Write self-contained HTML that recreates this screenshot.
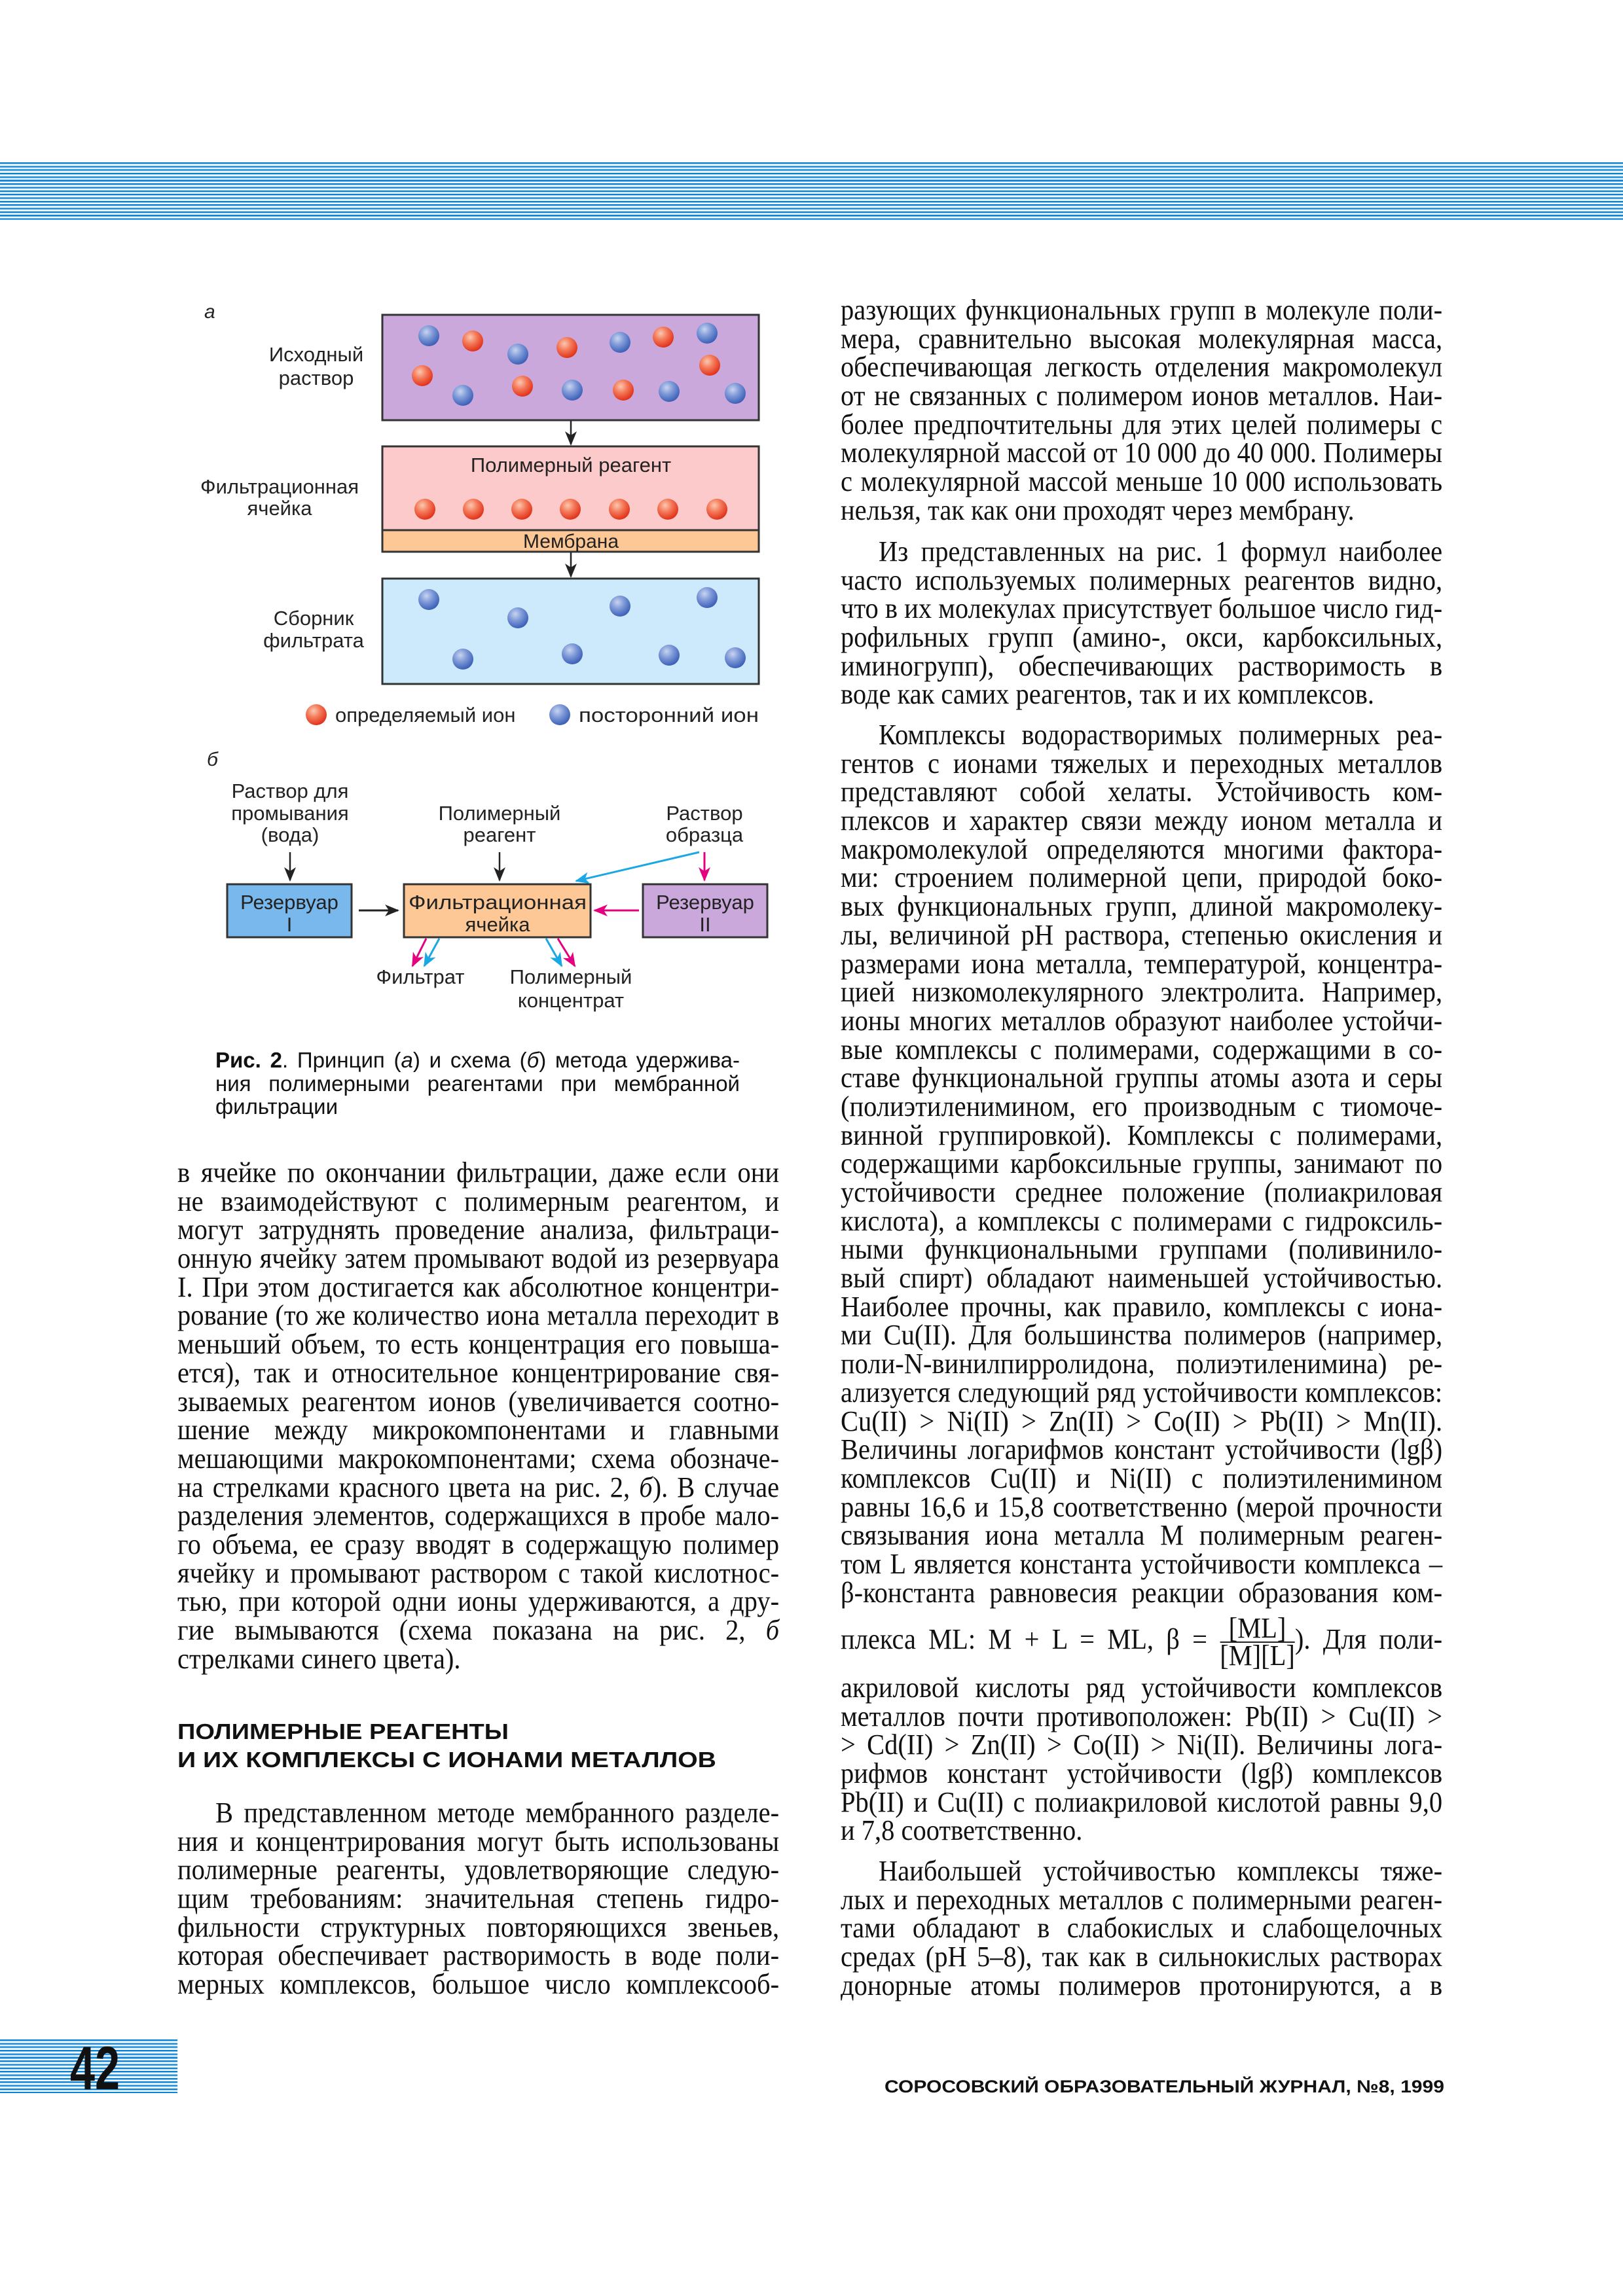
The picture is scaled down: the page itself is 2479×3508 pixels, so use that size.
<!DOCTYPE html>
<html><head><meta charset="utf-8">
<style>
html,body{margin:0;padding:0;background:#fff}
body{width:2479px;height:3508px;position:relative;overflow:hidden;font-family:"Liberation Serif","DejaVu Serif",serif;color:#111}
.stripes{position:absolute;background:repeating-linear-gradient(to bottom,#0a84d6 0px,#0a84d6 2px,#8cc6ee 2px,#8cc6ee 3px,#ffffff 3px,#ffffff 5.35px)}
.blk{position:absolute;line-height:43.7px;font-size:44px}
.blk div{width:999px;transform:scaleX(.92);transform-origin:0 0;height:43.7px;white-space:nowrap;text-align:justify;text-align-last:justify}
.blk div.e{text-align-last:left}
.blk div.i{text-indent:63px}
.fr{display:inline-block;vertical-align:middle;text-align:center;line-height:40px;text-indent:0}
.fr span{display:block;text-align-last:center}
.cap{position:absolute;left:329px;top:1602px;font-family:"Liberation Sans",sans-serif;font-size:33px;line-height:35.6px}
.cap div{width:801px;white-space:nowrap;text-align:justify;text-align-last:justify}
.cap div.e{text-align-last:left}
</style></head><body>
<div class="stripes" style="left:0;top:248px;width:2479px;height:88px"></div>
<div class="stripes" style="left:0;top:3116px;width:271px;height:82px"></div>

<svg width="2479" height="3508" style="position:absolute;left:0;top:0" xmlns="http://www.w3.org/2000/svg">
<defs>
<radialGradient id="rd" cx="0.38" cy="0.32" r="0.7"><stop offset="0" stop-color="#fbc8b0"/><stop offset="0.45" stop-color="#f47a5a"/><stop offset="1" stop-color="#e03018"/></radialGradient>
<radialGradient id="bl" cx="0.38" cy="0.32" r="0.7"><stop offset="0" stop-color="#c8d4f0"/><stop offset="0.45" stop-color="#7f9ad8"/><stop offset="1" stop-color="#3a5eb6"/></radialGradient>
<marker id="am" markerWidth="22" markerHeight="18" refX="20" refY="9" orient="auto" markerUnits="userSpaceOnUse"><path d="M0,0 L22,9 L0,18 L6,9z" fill="#e4007f"/></marker>
<marker id="ac" markerWidth="22" markerHeight="18" refX="20" refY="9" orient="auto" markerUnits="userSpaceOnUse"><path d="M0,0 L22,9 L0,18 L6,9z" fill="#19a8e4"/></marker>
<marker id="ab" markerWidth="22" markerHeight="18" refX="20" refY="9" orient="auto" markerUnits="userSpaceOnUse"><path d="M0,0 L22,9 L0,18 L6,9z" fill="#222"/></marker>
</defs>
<g font-family="Liberation Sans, DejaVu Sans, sans-serif" font-size="31" fill="#222">
<text x="312" y="486" font-style="italic" font-size="30">а</text>
<rect x="584" y="481" width="575" height="161" fill="#cba8dc" stroke="#333" stroke-width="3"/>
<rect x="584" y="682" width="575" height="128" fill="#fccaca" stroke="#333" stroke-width="3"/>
<rect x="584" y="810" width="575" height="33" fill="#fdc896" stroke="#333" stroke-width="3"/>
<rect x="584" y="884" width="575" height="161" fill="#cdeafc" stroke="#333" stroke-width="3"/>
<line x1="872" y1="643" x2="872" y2="679" stroke="#222" stroke-width="2.5" marker-end="url(#ab)"/>
<line x1="872" y1="844" x2="872" y2="881" stroke="#222" stroke-width="2.5" marker-end="url(#ab)"/>
<text x="483" y="552" text-anchor="middle">Исходный</text>
<text x="483" y="588" text-anchor="middle">раствор</text>
<text x="427" y="754" text-anchor="middle">Фильтрационная</text>
<text x="427" y="787" text-anchor="middle">ячейка</text>
<text x="479" y="955" text-anchor="middle">Сборник</text>
<text x="479" y="989" text-anchor="middle">фильтрата</text>
<text x="872" y="721" text-anchor="middle">Полимерный реагент</text>
<text x="872" y="837" text-anchor="middle" font-size="30">Мембрана</text>
<g fill="url(#bl)"><circle cx="655" cy="513" r="16"/><circle cx="791" cy="541" r="16"/><circle cx="947" cy="523" r="16"/><circle cx="1080" cy="509" r="16"/><circle cx="707" cy="604" r="16"/><circle cx="874" cy="596" r="16"/><circle cx="1022" cy="598" r="16"/><circle cx="1123" cy="601" r="16"/>
<circle cx="655" cy="916" r="16"/><circle cx="791" cy="944" r="16"/><circle cx="947" cy="926" r="16"/><circle cx="1080" cy="913" r="16"/><circle cx="707" cy="1007" r="16"/><circle cx="874" cy="999" r="16"/><circle cx="1022" cy="1001" r="16"/><circle cx="1123" cy="1005" r="16"/><circle cx="855" cy="1092" r="16"/></g>
<g fill="url(#rd)"><circle cx="722" cy="521" r="16"/><circle cx="866" cy="531" r="16"/><circle cx="1013" cy="515" r="16"/><circle cx="1084" cy="558" r="16"/><circle cx="645" cy="574" r="16"/><circle cx="798" cy="590" r="16"/><circle cx="952" cy="596" r="16"/>
<circle cx="649" cy="778" r="16"/><circle cx="723" cy="778" r="16"/><circle cx="797" cy="778" r="16"/><circle cx="871" cy="778" r="16"/><circle cx="946" cy="778" r="16"/><circle cx="1020" cy="778" r="16"/><circle cx="1095" cy="778" r="16"/><circle cx="483" cy="1092" r="16"/></g>
<text x="512" y="1103">определяемый ион</text>
<text x="884" y="1103" textLength="275" lengthAdjust="spacingAndGlyphs">посторонний ион</text>

<text x="316" y="1170" font-style="italic" font-size="30">б</text>
<text x="443" y="1219" text-anchor="middle">Раствор для</text>
<text x="443" y="1253" text-anchor="middle">промывания</text>
<text x="443" y="1286" text-anchor="middle">(вода)</text>
<text x="763" y="1253" text-anchor="middle">Полимерный</text>
<text x="763" y="1286" text-anchor="middle">реагент</text>
<text x="1076" y="1253" text-anchor="middle">Раствор</text>
<text x="1076" y="1286" text-anchor="middle">образца</text>
<line x1="443" y1="1302" x2="443" y2="1345" stroke="#222" stroke-width="2.5" marker-end="url(#ab)"/>
<line x1="763" y1="1302" x2="763" y2="1345" stroke="#222" stroke-width="2.5" marker-end="url(#ab)"/>
<rect x="347" y="1351" width="190" height="81" fill="#78b8ec" stroke="#333" stroke-width="3"/>
<rect x="617" y="1351" width="285" height="81" fill="#fdc896" stroke="#333" stroke-width="3"/>
<rect x="982" y="1351" width="190" height="81" fill="#cba8dc" stroke="#333" stroke-width="3"/>
<text x="442" y="1389" text-anchor="middle">Резервуар</text>
<text x="442" y="1423" text-anchor="middle">I</text>
<text x="760" y="1389" text-anchor="middle" textLength="272" lengthAdjust="spacingAndGlyphs">Фильтрационная</text>
<text x="760" y="1423" text-anchor="middle">ячейка</text>
<text x="1077" y="1389" text-anchor="middle">Резервуар</text>
<text x="1077" y="1423" text-anchor="middle">II</text>
<line x1="548" y1="1391" x2="608" y2="1391" stroke="#222" stroke-width="3" marker-end="url(#ab)"/>
<line x1="976" y1="1391" x2="908" y2="1391" stroke="#e4007f" stroke-width="3" marker-end="url(#am)"/>
<line x1="1076" y1="1302" x2="1076" y2="1345" stroke="#e4007f" stroke-width="3" marker-end="url(#am)"/>
<line x1="1068" y1="1302" x2="880" y2="1346" stroke="#19a8e4" stroke-width="3" marker-end="url(#ac)"/>
<line x1="651" y1="1434" x2="630" y2="1476" stroke="#e4007f" stroke-width="3" marker-end="url(#am)"/>
<line x1="671" y1="1434" x2="648" y2="1476" stroke="#19a8e4" stroke-width="3" marker-end="url(#ac)"/>
<line x1="834" y1="1434" x2="858" y2="1476" stroke="#19a8e4" stroke-width="3" marker-end="url(#ac)"/>
<line x1="852" y1="1434" x2="878" y2="1476" stroke="#e4007f" stroke-width="3" marker-end="url(#am)"/>
<text x="642" y="1503" text-anchor="middle">Фильтрат</text>
<text x="872" y="1503" text-anchor="middle">Полимерный</text>
<text x="872" y="1539" text-anchor="middle">концентрат</text>
</g>
<g font-family="Liberation Sans, DejaVu Sans, sans-serif" font-weight="bold" fill="#111">
<text x="271" y="2657" font-size="33" textLength="506" lengthAdjust="spacingAndGlyphs">ПОЛИМЕРНЫЕ РЕАГЕНТЫ</text>
<text x="271" y="2700" font-size="33" textLength="823" lengthAdjust="spacingAndGlyphs">И ИХ КОМПЛЕКСЫ С ИОНАМИ МЕТАЛЛОВ</text>
<text x="107" y="3192" font-size="94" textLength="76" lengthAdjust="spacingAndGlyphs">42</text>
<text x="1351" y="3197" font-size="27" textLength="855" lengthAdjust="spacingAndGlyphs">СОРОСОВСКИЙ ОБРАЗОВАТЕЛЬНЫЙ ЖУРНАЛ, №8, 1999</text>
</g>
</svg>

<div class="cap">
<div><b>Рис. 2</b>. Принцип (<i>а</i>) и схема (<i>б</i>) метода удержива-</div>
<div>ния полимерными реагентами при мембранной</div>
<div class="e">фильтрации</div>
</div>

<div class="blk" style="left:271px;top:1770px">
<div>в ячейке по окончании фильтрации, даже если они</div>
<div>не взаимодействуют с полимерным реагентом, и</div>
<div>могут затруднять проведение анализа, фильтраци-</div>
<div>онную ячейку затем промывают водой из резервуара</div>
<div>I. При этом достигается как абсолютное концентри-</div>
<div>рование (то же количество иона металла переходит в</div>
<div>меньший объем, то есть концентрация его повыша-</div>
<div>ется), так и относительное концентрирование свя-</div>
<div>зываемых реагентом ионов (увеличивается соотно-</div>
<div>шение между микрокомпонентами и главными</div>
<div>мешающими макрокомпонентами; схема обозначе-</div>
<div>на стрелками красного цвета на рис. 2, <i>б</i>). В случае</div>
<div>разделения элементов, содержащихся в пробе мало-</div>
<div>го объема, ее сразу вводят в содержащую полимер</div>
<div>ячейку и промывают раствором с такой кислотнос-</div>
<div>тью, при которой одни ионы удерживаются, а дру-</div>
<div>гие вымываются (схема показана на рис. 2, <i>б</i></div>
<div class="e">стрелками синего цвета).</div>
</div>

<div class="blk" style="left:271px;top:2748px">
<div class="i">В представленном методе мембранного разделе-</div>
<div>ния и концентрирования могут быть использованы</div>
<div>полимерные реагенты, удовлетворяющие следую-</div>
<div>щим требованиям: значительная степень гидро-</div>
<div>фильности структурных повторяющихся звеньев,</div>
<div>которая обеспечивает растворимость в воде поли-</div>
<div>мерных комплексов, большое число комплексооб-</div>
</div>

<div class="blk" style="left:1284px;top:452px">
<div>разующих функциональных групп в молекуле поли-</div>
<div>мера, сравнительно высокая молекулярная масса,</div>
<div>обеспечивающая легкость отделения макромолекул</div>
<div>от не связанных с полимером ионов металлов. Наи-</div>
<div>более предпочтительны для этих целей полимеры с</div>
<div>молекулярной массой от 10 000 до 40 000. Полимеры</div>
<div>с молекулярной массой меньше 10 000 использовать</div>
<div class="e">нельзя, так как они проходят через мембрану.</div>
</div>

<div class="blk" style="left:1284px;top:821px">
<div class="i">Из представленных на рис. 1 формул наиболее</div>
<div>часто используемых полимерных реагентов видно,</div>
<div>что в их молекулах присутствует большое число гид-</div>
<div>рофильных групп (амино-, окси, карбоксильных,</div>
<div>иминогрупп), обеспечивающих растворимость в</div>
<div class="e">воде как самих реагентов, так и их комплексов.</div>
</div>

<div class="blk" style="left:1284px;top:1101px">
<div class="i">Комплексы водорастворимых полимерных реа-</div>
<div>гентов с ионами тяжелых и переходных металлов</div>
<div>представляют собой хелаты. Устойчивость ком-</div>
<div>плексов и характер связи между ионом металла и</div>
<div>макромолекулой определяются многими фактора-</div>
<div>ми: строением полимерной цепи, природой боко-</div>
<div>вых функциональных групп, длиной макромолеку-</div>
<div>лы, величиной рН раствора, степенью окисления и</div>
<div>размерами иона металла, температурой, концентра-</div>
<div>цией низкомолекулярного электролита. Например,</div>
<div>ионы многих металлов образуют наиболее устойчи-</div>
<div>вые комплексы с полимерами, содержащими в со-</div>
<div>ставе функциональной группы атомы азота и серы</div>
<div>(полиэтиленимином, его производным с тиомоче-</div>
<div>винной группировкой). Комплексы с полимерами,</div>
<div>содержащими карбоксильные группы, занимают по</div>
<div>устойчивости среднее положение (полиакриловая</div>
<div>кислота), а комплексы с полимерами с гидроксиль-</div>
<div>ными функциональными группами (поливинило-</div>
<div>вый спирт) обладают наименьшей устойчивостью.</div>
<div>Наиболее прочны, как правило, комплексы с иона-</div>
<div>ми Cu(II). Для большинства полимеров (например,</div>
<div>поли-N-винилпирролидона, полиэтиленимина) ре-</div>
<div>ализуется следующий ряд устойчивости комплексов:</div>
<div>Cu(II) &gt; Ni(II) &gt; Zn(II) &gt; Co(II) &gt; Pb(II) &gt; Mn(II).</div>
<div>Величины логарифмов констант устойчивости (lgβ)</div>
<div>комплексов Cu(II) и Ni(II) с полиэтиленимином</div>
<div>равны 16,6 и 15,8 соответственно (мерой прочности</div>
<div>связывания иона металла M полимерным реаген-</div>
<div>том L является константа устойчивости комплекса –</div>
<div>β-константа равновесия реакции образования ком-</div>
</div>

<div class="blk" style="left:1284px;top:2463px;">
<div style="height:84px;line-height:84px">плекса ML: M + L = ML, β = <span class="fr"><span style="border-bottom:2px solid #222">[ML]</span><span>[M][L]</span></span>). Для поли-</div>
</div>

<div class="blk" style="left:1284px;top:2557px">
<div>акриловой кислоты ряд устойчивости комплексов</div>
<div>металлов почти противоположен: Pb(II) &gt; Cu(II) &gt;</div>
<div>&gt; Cd(II) &gt; Zn(II) &gt; Co(II) &gt; Ni(II). Величины лога-</div>
<div>рифмов констант устойчивости (lgβ) комплексов</div>
<div>Pb(II) и Cu(II) с полиакриловой кислотой равны 9,0</div>
<div class="e">и 7,8 соответственно.</div>
</div>

<div class="blk" style="left:1284px;top:2837px">
<div class="i">Наибольшей устойчивостью комплексы тяже-</div>
<div>лых и переходных металлов с полимерными реаген-</div>
<div>тами обладают в слабокислых и слабощелочных</div>
<div>средах (pH 5–8), так как в сильнокислых растворах</div>
<div>донорные атомы полимеров протонируются, а в</div>
</div>
</body></html>
